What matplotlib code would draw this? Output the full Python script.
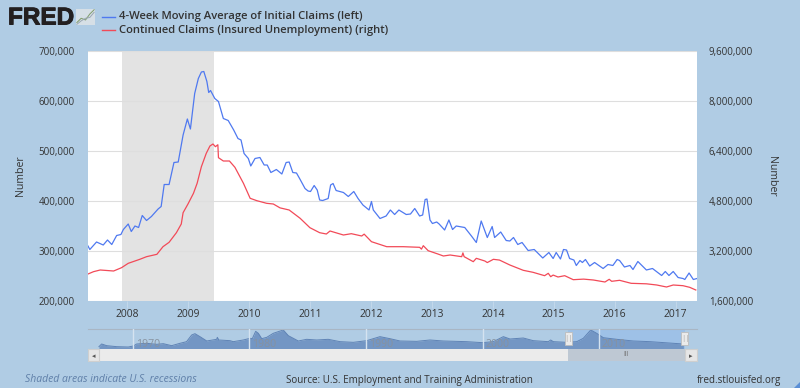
import matplotlib
matplotlib.use('Agg')
import matplotlib.pyplot as plt
import matplotlib.patheffects as pe
from matplotlib.patches import Polygon, Rectangle
from matplotlib.ticker import FuncFormatter

# Values. Time is in decimal years.
claims_years = [2007.36, 2007.39, 2007.50, 2007.61, 2007.68, 2007.75, 2007.83, 2007.90, 2007.94, 2008.02,
                2008.07, 2008.13, 2008.19, 2008.25, 2008.32, 2008.40, 2008.51, 2008.56, 2008.61, 2008.69,
                2008.77, 2008.84, 2008.92, 2008.99, 2009.04, 2009.11, 2009.17, 2009.22, 2009.26, 2009.31,
                2009.34, 2009.37, 2009.44, 2009.50, 2009.58, 2009.66, 2009.75, 2009.82, 2009.87, 2009.92,
                2009.99, 2010.03, 2010.10, 2010.18, 2010.25, 2010.30, 2010.36, 2010.45, 2010.54, 2010.61,
                2010.66, 2010.72, 2010.78, 2010.84, 2010.92, 2010.97, 2011.01, 2011.07, 2011.12, 2011.16,
                2011.21, 2011.30, 2011.34, 2011.38, 2011.43, 2011.55, 2011.63, 2011.72, 2011.79, 2011.87,
                2011.97, 2012.01, 2012.04, 2012.15, 2012.25, 2012.32, 2012.39, 2012.46, 2012.58, 2012.65,
                2012.72, 2012.80, 2012.85, 2012.89, 2012.92, 2012.97, 2013.01, 2013.08, 2013.12, 2013.21,
                2013.28, 2013.34, 2013.40, 2013.54, 2013.65, 2013.73, 2013.81, 2013.91, 2013.99, 2014.03,
                2014.13, 2014.22, 2014.28, 2014.34, 2014.41, 2014.48, 2014.58, 2014.68, 2014.82, 2014.92,
                2014.99, 2015.04, 2015.11, 2015.16, 2015.21, 2015.26, 2015.33, 2015.37, 2015.43, 2015.47,
                2015.52, 2015.59, 2015.67, 2015.81, 2015.89, 2015.97, 2016.04, 2016.08, 2016.16, 2016.25,
                2016.30, 2016.38, 2016.52, 2016.62, 2016.77, 2016.83, 2016.89, 2016.96, 2017.04, 2017.12,
                2017.15, 2017.22, 2017.29, 2017.35]
claims = [310, 303, 318, 312, 322, 313, 331, 333, 343, 354,
          339, 350, 347, 371, 361, 369, 384, 389, 433, 433,
          477, 478, 532, 564, 544, 615, 645, 658, 659, 639,
          617, 621, 605, 599, 565, 561, 542, 525, 522, 495,
          485, 470, 485, 487, 472, 472, 457, 463, 454, 477,
          478, 457, 456, 443, 425, 420, 419, 431, 422, 402,
          401, 405, 432, 435, 421, 417, 409, 419, 405, 392,
          382, 399, 382, 365, 370, 382, 373, 382, 373, 374,
          385, 370, 372, 403, 404, 362, 355, 358, 354, 342,
          362, 343, 350, 347, 330, 317, 360, 327, 349, 327,
          338, 321, 320, 327, 313, 317, 301, 303, 286, 297,
          285, 297, 284, 303, 302, 285, 282, 271, 281, 277,
          283, 270, 277, 265, 273, 271, 283, 281, 268, 271,
          263, 279, 262, 265, 251, 259, 251, 259, 247, 245,
          243, 256, 243, 245]
claims = [v * 1000 for v in claims]

continued_years = [2007.36, 2007.45, 2007.56, 2007.78, 2007.91, 2008.02, 2008.21, 2008.32, 2008.49, 2008.59,
                   2008.69, 2008.81, 2008.89, 2008.92, 2009.00, 2009.09, 2009.15, 2009.22, 2009.30, 2009.36,
                   2009.41, 2009.45, 2009.49, 2009.50, 2009.58, 2009.68, 2009.77, 2009.91, 2010.02, 2010.13,
                   2010.29, 2010.40, 2010.51, 2010.66, 2010.84, 2011.00, 2011.16, 2011.27, 2011.33, 2011.55,
                   2011.68, 2011.85, 2011.89, 2012.01, 2012.26, 2012.53, 2012.80, 2012.83, 2012.86, 2012.94,
                   2013.10, 2013.19, 2013.30, 2013.49, 2013.51, 2013.53, 2013.68, 2013.73, 2013.87, 2013.91,
                   2014.01, 2014.11, 2014.28, 2014.50, 2014.66, 2014.85, 2014.91, 2014.95, 2014.99, 2015.07,
                   2015.18, 2015.32, 2015.49, 2015.65, 2015.84, 2015.91, 2015.95, 2016.08, 2016.27, 2016.52,
                   2016.69, 2016.85, 2016.96, 2017.12, 2017.23, 2017.33]
continued = [2464, 2538, 2592, 2560, 2666, 2806, 2934, 3018, 3094, 3338,
             3478, 3786, 4064, 4426, 4704, 5046, 5366, 5898, 6326, 6560,
             6624, 6538, 6600, 6186, 6080, 6080, 5878, 5366, 4886, 4810,
             4726, 4704, 4580, 4512, 4246, 3946, 3786, 3744, 3840, 3712,
             3754, 3680, 3740, 3498, 3338, 3338, 3318, 3260, 3370, 3210,
             3104, 3040, 3072, 3018, 3140, 3018, 2858, 2966, 2880, 2830,
             2934, 2910, 2752, 2582, 2518, 2410, 2486, 2378, 2430, 2368,
             2410, 2282, 2300, 2272, 2208, 2294, 2230, 2262, 2166, 2150,
             2112, 2048, 2112, 2090, 2038, 1952]
continued = [v * 1000 for v in continued]

nav_years = [1967.08, 1967.31, 1967.74, 1968.6, 1969.6, 1970.03, 1970.32, 1971.18, 1972.03, 1972.6,
             1973.32, 1974.03, 1974.6, 1975.04, 1975.32, 1975.75, 1976.33, 1977.18, 1977.24, 1977.36,
             1978.33, 1978.61, 1979.47, 1980.04, 1980.24, 1980.53, 1980.76, 1981.05, 1981.48, 1982.04,
             1982.9, 1983.33, 1984.19, 1984.91, 1985.77, 1986.76, 1987.77, 1988.91, 1990.06, 1991.2,
             1992.06, 1992.92, 1994.35, 1995.49, 1996.63, 1998.64, 1999.98, 2000.93, 2001.79, 2002.36,
             2003.5, 2004.36, 2005.65, 2005.85, 2006.08, 2007.23, 2008.09, 2008.65, 2009.29, 2009.8,
             2010.37, 2011.52, 2012.94, 2014.38, 2017.24]
nav_claims = [190, 265, 218, 190, 180, 209, 265, 284, 256, 274,
              218, 284, 331, 519, 556, 472, 350, 397, 453, 378,
              359, 331, 378, 425, 415, 622, 566, 415, 453, 566,
              660, 500, 350, 397, 378, 397, 331, 312, 359, 472,
              415, 350, 340, 378, 350, 331, 303, 331, 472, 406,
              434, 359, 331, 378, 331, 312, 331, 425, 660, 566,
              443, 397, 350, 331, 265]
nav_claims = [v * 1000 for v in nav_claims]

left_ticks = [200000, 300000, 400000, 500000, 600000, 700000]
right_ticks = [1600000, 3200000, 4800000, 6400000, 8000000, 9600000]
year_ticks = list(range(2008, 2018))
nav_ticks = [1970, 1980, 1990, 2000, 2010]
recession = (2007.92, 2009.42)
selected = (2007.34, 2017.38)

W, H = 800, 388
BG = '#B0CCE4'
TXT = '#333333'
BLUE = '#4F79F0'
RED = '#F24A58'
plt.rcParams['font.family'] = ['Open Sans', 'DejaVu Sans']


def box(x0, y0, x1, y1):
    # pixel box (from the top left) to figure fractions
    return [x0 / W, 1 - y1 / H, (x1 - x0) / W, (y1 - y0) / H]


def ftext(x, y, s, **kw):
    return fig.text(x / W, 1 - y / H, s, va='center', **kw)


comma = FuncFormatter(lambda v, p: '{:,.0f}'.format(v))

fig = plt.figure(figsize=(8, 3.88), dpi=100, facecolor=BG)

# Main chart
ax = fig.add_axes(box(88, 51, 697, 301))
ax.set_xlim(2007.36, 2017.35)
ax.set_ylim(200000, 700000)
ax.set_facecolor('white')
ax.axvspan(recession[0], recession[1], color='#E3E3E3', lw=0, zorder=0)
ax.grid(axis='y', color='#DEDEDE', lw=0.8, zorder=1)
ax.set_axisbelow(True)
ax.plot(claims_years, claims, color=BLUE, lw=0.9, zorder=3)
ax.set_xticks(year_ticks)
ax.set_xticklabels(year_ticks)
ax.set_yticks(left_ticks)
ax.yaxis.set_major_formatter(comma)
ax.tick_params(axis='x', length=5, color='#C2D7EA', labelsize=7.4, labelcolor=TXT, pad=1)
ax.tick_params(axis='y', length=0, labelsize=7, labelcolor=TXT, pad=9.5)
for s in ax.spines.values():
    s.set_visible(False)

ax2 = ax.twinx()
ax2.set_ylim(1600000, 9600000)
ax2.plot(continued_years, continued, color=RED, lw=0.9, zorder=3)
ax2.set_yticks(right_ticks)
ax2.yaxis.set_major_formatter(comma)
ax2.tick_params(axis='y', length=0, labelsize=7, labelcolor=TXT, pad=8.5)
for s in ax2.spines.values():
    s.set_visible(False)
ftext(20, 176, 'Number', fontsize=7.6, color=TXT, rotation=90, ha='center')
ftext(772, 176, 'Number', fontsize=7.6, color=TXT, rotation=270, ha='center')

# Navigator with selected range
nav = fig.add_axes(box(88, 329, 697, 349))
nav.set_xlim(1966.14, 2018.41)
nav.set_ylim(124000, 688000)
nav.set_facecolor(BG)
nav.axvspan(selected[0], selected[1], color='#9EC1E7', lw=0, zorder=0)
nav.fill_between(nav_years, nav_claims, 124000, color='#7396C4', lw=0, zorder=1)
nav.plot(nav_years, nav_claims, color='#5F83B5', lw=0.7, zorder=2)
nav.set_xticks(nav_ticks)
nav.set_yticks([])
nav.grid(axis='x', color='#D5E3F0', lw=1, zorder=3)
nav.set_axisbelow(False)
nav.tick_params(axis='x', length=0, labelbottom=False)
for t in nav_ticks:
    nav.annotate(str(t), (t, 0), xycoords=('data', 'axes fraction'), xytext=(2, 1.5),
                 textcoords='offset points', fontsize=7.6, color='#87929F', zorder=4)
for s in nav.spines.values():
    s.set_visible(False)
nav.spines['top'].set_visible(True)
nav.spines['top'].set_color('#A9B6C4')

# Scrollbar
bar = fig.add_axes(box(88, 349, 697, 361))
bar.set_xlim(nav.get_xlim())
bar.set_ylim(0, 1)
bar.set_facecolor('#EBEBEB')
bar.axvspan(selected[0], selected[1], color='#BEC8D3', lw=0)
bar.set_xticks([])
bar.set_yticks([])
for s in bar.spines.values():
    s.set_visible(False)
for x0, x1, mark in [(88, 99, '\u25c2'), (685, 697, '\u25b8')]:
    btn = fig.add_axes(box(x0, 349, x1, 361))
    btn.set_xticks([])
    btn.set_yticks([])
    btn.set_facecolor('#E6E6E6')
    btn.text(0.5, 0.45, mark, transform=btn.transAxes, ha='center', va='center', fontsize=5,
             color='#555555', family='DejaVu Sans')
    for s in btn.spines.values():
        s.set_color('#CFCFCF')
ftext(626, 355, 'III', fontsize=5, color='#777777', ha='center')

# Range handles
for x in selected:
    xp = nav.transData.transform((x, 0))[0]
    fig.add_artist(Rectangle((xp / W - 3.5 / W, 1 - 345 / H), 7 / W, 13 / H, transform=fig.transFigure,
                             fc='#EBEBEB', ec='#BDBDBD', lw=0.6, zorder=5))
    ftext(xp, 338.5, '||', fontsize=5.5, color='#A5A5A5', ha='center', zorder=6)

# Header
ftext(8, 18, 'FRED', fontsize=17.5, fontweight='bold', color='#231F20', family='Liberation Sans', ha='left',
      path_effects=[pe.withStroke(linewidth=0.7, foreground='#231F20')])
icon = fig.add_axes(box(76, 9, 95, 25))
icon.plot([0, 1, 2, 3, 4], [1, 2, 1.6, 3, 4], color='#7F9C6B', lw=0.7)
icon.plot([0, 1, 2, 3, 4], [0.6, 1.4, 2, 2.2, 3.4], color='#9AA7B3', lw=0.7)
icon.set_facecolor('#D6DFE6')
icon.set_xticks([])
icon.set_yticks([])
for s in icon.spines.values():
    s.set_visible(False)

leg = fig.add_axes(box(0, 0, W, 45), facecolor='none')
leg.set_xlim(0, W)
leg.set_ylim(45, 0)
leg.axis('off')
leg.plot([102, 115], [17, 17], color=BLUE, lw=1)
leg.plot([102, 115], [30, 30], color=RED, lw=1)
ftext(119, 17, '4-Week Moving Average of Initial Claims (left)', fontsize=8.1, color=TXT,
      fontweight='semibold', ha='left')
ftext(119, 30, 'Continued Claims (Insured Unemployment) (right)', fontsize=8.1, color=TXT,
      fontweight='semibold', ha='left')

# Footer
ftext(25, 380, 'Shaded areas indicate U.S. recessions', fontsize=7.5, style='italic', color='#5F7FA8', ha='left')
ftext(286, 380, 'Source: U.S. Employment and Training Administration', fontsize=7.1, color=TXT, ha='left')
ftext(697, 380, 'fred.stlouisfed.org', fontsize=7.1, color=TXT, ha='left')

# Corner grip
fig.add_artist(Polygon([(1, 0), (1, 6 / H), (1 - 6 / W, 0)], transform=fig.transFigure, fc='#5B8FD6', lw=0))

fig.savefig('out.png', dpi=100, facecolor=BG)
